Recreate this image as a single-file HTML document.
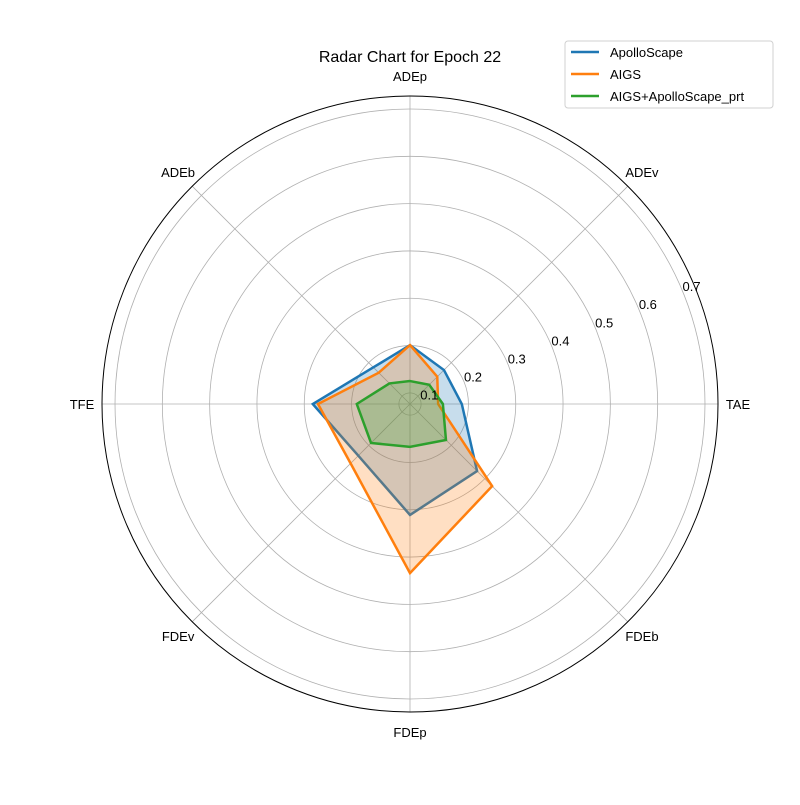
<!DOCTYPE html>
<html><head><meta charset="utf-8"><style>
body{margin:0;background:#fff;}
svg text{font-family:"Liberation Sans","DejaVu Sans",sans-serif;}
</style></head><body>
<svg id="chart" width="800" height="800" viewBox="0 0 800 800" xmlns="http://www.w3.org/2000/svg">
<rect width="800" height="800" fill="#fff"/>
<text x="410" y="62" font-size="16" text-anchor="middle">Radar Chart for Epoch 22</text>
<g id="grid"></g>
<g id="series"></g>
<g id="labels"></g>
<g>
<rect x="565" y="41" width="208" height="67" rx="3" fill="#fff" stroke="#d0d0d0"/>
<g><line x1="571" y1="52" x2="599" y2="52" stroke="#1f77b4" stroke-width="2.5"/><text x="610" y="57" font-size="13">ApolloScape</text></g>
<g><line x1="571" y1="74" x2="599" y2="74" stroke="#ff7f0e" stroke-width="2.5"/><text x="610" y="79" font-size="13">AIGS</text></g>
<g><line x1="571" y1="96" x2="599" y2="96" stroke="#2ca02c" stroke-width="2.5"/><text x="610" y="101" font-size="13">AIGS+ApolloScape_prt</text></g>
</g>
</svg>
<script>
const categories = ["ADEp","ADEv","TAE","FDEb","FDEp","FDEv","TFE","ADEb"];
const apolloscape = [0.201,0.178,0.186,0.277,0.311,0.231,0.282,0.186];
const aigs = [0.201,0.158,0.136,0.322,0.434,0.254,0.271,0.170];
const aigsPrt = [0.125,0.134,0.146,0.184,0.167,0.193,0.189,0.138];
const rTicks = [0.1,0.2,0.3,0.4,0.5,0.6,0.7];
const tickLabels = ["0.1","0.2","0.3","0.4","0.5","0.6","0.7"];

const NS="http://www.w3.org/2000/svg";
const cx=410, cy=404, R=308, vmin=0.0765, vmax=0.7275;
function rScale(v){return (v-vmin)/(vmax-vmin)*R;}
function ang(i){return -Math.PI/2 + i*2*Math.PI/categories.length;}
function pt(i,r){return [cx+r*Math.cos(ang(i)), cy+r*Math.sin(ang(i))];}
function mk(tag,attrs,parent){const e=document.createElementNS(NS,tag);for(const k in attrs)e.setAttribute(k,attrs[k]);parent.appendChild(e);return e;}
const grid=document.getElementById('grid'), labels=document.getElementById('labels'), series=document.getElementById('series');

rTicks.forEach((v,k)=>{
  const c=mk('circle',{cx:cx,cy:cy,r:rScale(v),fill:'none',stroke:'#b0b0b0','stroke-width':0.8},grid);
  
  
});
categories.forEach((c,i)=>{
  const p=pt(i,R);
  const l=mk('line',{x1:cx,y1:cy,x2:p[0],y2:p[1],stroke:'#b0b0b0','stroke-width':0.8},grid);
  
  
  const q=pt(i,328);
  const t=mk('text',{x:q[0],y:q[1]+5,'font-size':13,'text-anchor':'middle'},labels);
  t.textContent=c;
  
  
});
const outer=mk('circle',{cx:cx,cy:cy,r:R,fill:'none',stroke:'#000','stroke-width':1},grid);



const a=-22.5*Math.PI/180;
rTicks.forEach((v,k)=>{
  const r=rScale(v);
  const t=mk('text',{x:cx+r*Math.cos(a),y:cy+r*Math.sin(a),'font-size':13},labels);
  t.textContent=tickLabels[k];
  
  
});

function drawSeries(vals,color,name){
  const pts=vals.map((v,i)=>pt(i,rScale(v)).join(',')).join(' ');
  const f=mk('polygon',{points:pts,fill:color,'fill-opacity':0.25,stroke:'none'},series);
  
  
  const l=mk('polygon',{points:pts,fill:'none',stroke:color,'stroke-width':2.5,'stroke-linejoin':'miter'},series);
  
  
}
drawSeries(apolloscape,'#1f77b4','series-apolloscape');
drawSeries(aigs,'#ff7f0e','series-aigs');
drawSeries(aigsPrt,'#2ca02c','series-aigs-apolloscape-prt');
</script>
</body></html>
